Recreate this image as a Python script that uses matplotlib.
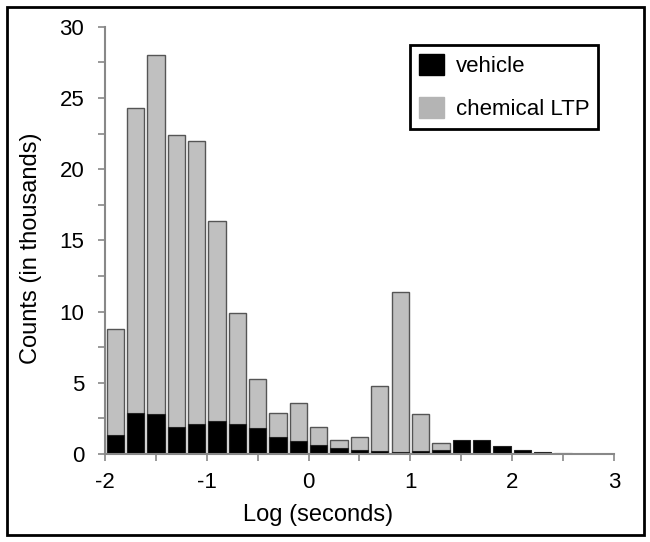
import matplotlib.pyplot as plt
from matplotlib.patches import Rectangle, Patch

plt.rcParams["font.family"] = ["Liberation Sans", "DejaVu Sans"]

# bin centres in log10(seconds), bin width 0.2
bin_centers = [-1.9, -1.7, -1.5, -1.3, -1.1, -0.9, -0.7, -0.5, -0.3, -0.1,
               0.1, 0.3, 0.5, 0.7, 0.9, 1.1, 1.3, 1.5, 1.7, 1.9, 2.1, 2.3, 2.5]
# counts in thousands
chem_ltp = [8.8, 24.3, 28.0, 22.4, 22.0, 16.4, 9.9, 5.3, 2.9, 3.6,
            1.9, 1.0, 1.2, 4.8, 11.4, 2.8, 0.8, 0, 0, 0, 0, 0, 0]
vehicle = [1.3, 2.9, 2.8, 1.9, 2.1, 2.3, 2.1, 1.8, 1.2, 0.9,
           0.6, 0.4, 0.3, 0.2, 0.15, 0.2, 0.25, 1.0, 1.0, 0.55, 0.25, 0.15, 0.06]
x_ticks = [-2, -1, 0, 1, 2, 3]

fig = plt.figure(figsize=(6.5, 5.42), dpi=100)
ax = fig.add_axes([0.1615, 0.1624, 0.783, 0.788])

width = 0.17
ax.bar(bin_centers, chem_ltp, width, color="#c0c0c0", edgecolor="#555555", linewidth=1, zorder=2)
ax.bar(bin_centers, vehicle, width, color="black", edgecolor="#222222", linewidth=0.8, zorder=3)

ax.set_xlim(-2, 3)
ax.set_ylim(0, 30)
ax.set_xticks(x_ticks)
ax.set_xticks([-1.5, -0.5, 0.5, 1.5, 2.5], minor=True)
ax.set_yticks([0, 5, 10, 15, 20, 25, 30])
ax.set_yticks([2.5, 7.5, 12.5, 17.5, 22.5, 27.5], minor=True)
ax.set_xticklabels([str(t) for t in x_ticks])

for side in ["top", "right"]:
    ax.spines[side].set_visible(False)
for side in ["left", "bottom"]:
    ax.spines[side].set_color("#888888")
    ax.spines[side].set_linewidth(1.5)
    ax.spines[side].set_zorder(4)

ax.tick_params(which="both", color="#888888", width=1.2, direction="out", length=5)
ax.tick_params(axis="y", which="major", labelsize=16, pad=10)
ax.tick_params(axis="x", which="major", labelsize=16, pad=8)

ax.set_xlabel("Log (seconds)", fontsize=17)
ax.set_ylabel("Counts (in thousands)", fontsize=17)
ax.xaxis.set_label_coords(0.418, -0.117)
ax.yaxis.set_label_coords(-0.124, 0.482)

handles = [Patch(facecolor="black", edgecolor="black"),
           Patch(facecolor="#b4b4b4", edgecolor="#b4b4b4")]
leg = ax.legend(handles, ["vehicle", "chemical LTP"], loc="upper left",
                bbox_to_anchor=(410 / 650, 1 - 45 / 542), bbox_transform=fig.transFigure,
                fontsize=16, fancybox=False, framealpha=1, edgecolor="black",
                handlelength=1.15, handleheight=1.1, labelspacing=0.9,
                borderpad=0.4, borderaxespad=0, handletextpad=0.5)
leg.get_frame().set_linewidth(2)

fig.patches.append(Rectangle((7 / 650, 7 / 542), 637 / 650, 528 / 542, transform=fig.transFigure,
                             fill=False, edgecolor="black", linewidth=2))

fig.savefig("out.png", dpi=100)
